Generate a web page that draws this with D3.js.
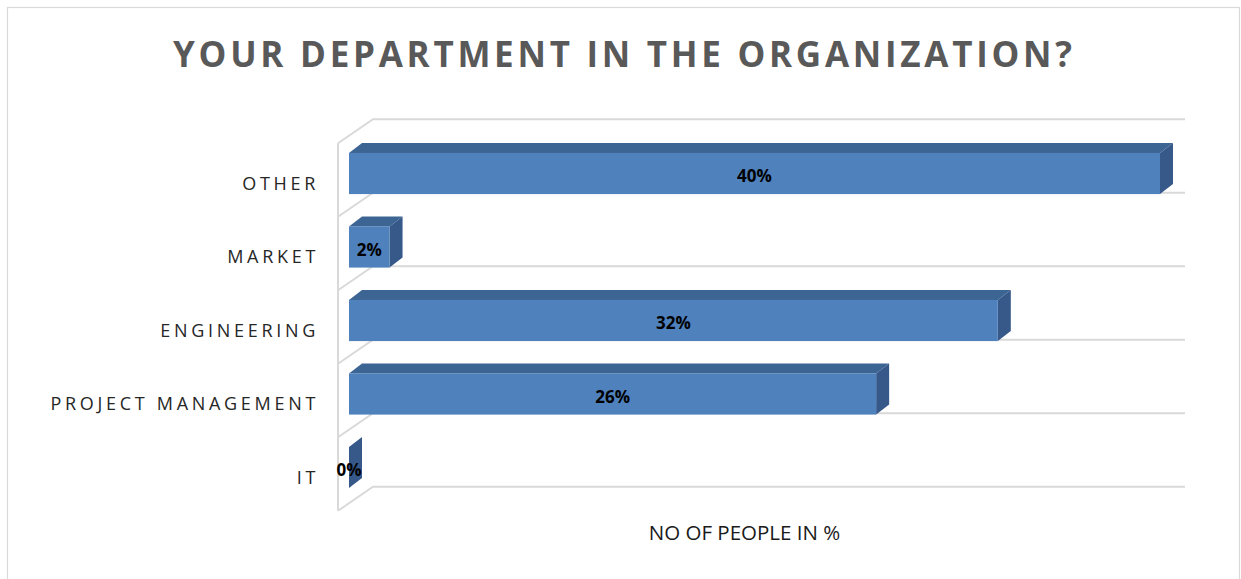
<!DOCTYPE html>
<html>
<head>
<meta charset="utf-8">
<script src="https://cdn.jsdelivr.net/npm/d3@7"></script>
<style>
  html, body { margin: 0; padding: 0; background: #ffffff; }
  svg { display: block; }
</style>
</head>
<body>
<svg id="chart" width="1241" height="579"></svg>
<script>
// Survey answers: share of respondents per department (%)
const categories = ["OTHER", "MARKET", "ENGINEERING", "PROJECT MANAGEMENT", "IT"];
const values = [40, 2, 32, 26, 0];
const valueLabels = ["40%", "2%", "32%", "26%", "0%"];
const chartTitle = "YOUR DEPARTMENT IN THE ORGANIZATION?";
const axisTitle = "NO OF PEOPLE IN %";

const svg = d3.select("#chart");
const font = "'Open Sans', 'Liberation Sans', sans-serif";

// Outer frame
svg.append("rect")
  .attr("x", 7.5).attr("y", 7.5)
  .attr("width", 1232).attr("height", 600)
  .attr("fill", "#ffffff")
  .attr("stroke", "#d9d9d9").attr("stroke-width", 1.2);

// Scales for the front faces of the bars
const x = d3.scaleLinear().domain([0, 40]).range([349, 1160]);
const y = d3.scaleBand().domain(categories)
  .range([136.75, 504.25])
  .paddingInner(0.44).paddingOuter(0.22);

// 3D offsets
const bar3d = { dx: 13, dy: -10 };      // bar depth
const wallFront = { dx: -11, dy: 6.5 }; // side wall front edge relative to bar front
const wallBack = { dx: 24, dy: -17.5 }; // back wall relative to bar front

// Category boundaries (top of each band plus the bottom of the last)
const gap = (y.step() - y.bandwidth()) / 2;
const bounds = categories.map(c => y(c) - gap);
bounds.push(y(categories[categories.length - 1]) + y.bandwidth() + gap);

const grid = svg.append("g")
  .attr("fill", "none")
  .attr("stroke", "#d9d9d9")
  .attr("stroke-width", 2);

const x0 = x(0), x1 = x.range()[1];
const fx = x0 + wallFront.dx;
const bx0 = x0 + wallBack.dx;
const bx1 = x1 + wallBack.dx + 1;

// side wall front edge
grid.append("line")
  .attr("x1", fx).attr("x2", fx)
  .attr("y1", bounds[0] + wallFront.dy)
  .attr("y2", bounds[bounds.length - 1] + wallFront.dy);

// gridlines on the side and back walls
grid.selectAll("path.grid")
  .data(bounds)
  .join("path")
  .attr("class", "grid")
  .attr("d", b => `M${fx},${b + wallFront.dy}L${bx0},${b + wallBack.dy}L${bx1},${b + wallBack.dy}`);

// Bars
const bars = svg.append("g")
  .selectAll("g.bar")
  .data(categories.map((c, i) => ({ c, v: values[i], label: valueLabels[i] })))
  .join("g")
  .attr("class", "bar");

bars.append("path") // top face
  .attr("fill", "#3d6594")
  .attr("d", d => {
    const l = x(0), r = x(d.v), t = y(d.c);
    return `M${l},${t}L${l + bar3d.dx},${t + bar3d.dy}L${r + bar3d.dx},${t + bar3d.dy}L${r},${t}Z`;
  });

bars.append("path") // side face
  .attr("fill", "#36598a")
  .attr("d", d => {
    const r = x(d.v), t = y(d.c), b = t + y.bandwidth();
    return `M${r},${t}L${r + bar3d.dx},${t + bar3d.dy}L${r + bar3d.dx},${b + bar3d.dy}L${r},${b}Z`;
  });

bars.append("rect") // front face
  .attr("fill", "#4f81bd")
  .attr("x", x(0))
  .attr("y", d => y(d.c))
  .attr("width", d => x(d.v) - x(0))
  .attr("height", y.bandwidth());

bars.append("text")
  .attr("x", d => (x(0) + x(d.v)) / 2)
  .attr("y", d => y(d.c) + y.bandwidth() / 2 + 8.5)
  .attr("text-anchor", "middle")
  .attr("font-family", font)
  .attr("font-weight", "bold")
  .attr("font-size", 17)
  .attr("fill", "#000000")
  .text(d => d.label);

// Category labels
svg.append("g")
  .selectAll("text")
  .data(categories)
  .join("text")
  .attr("x", 319)
  .attr("y", c => y(c) + y.bandwidth() / 2 + 16)
  .attr("text-anchor", "end")
  .attr("font-family", font)
  .attr("font-size", 18)
  .attr("letter-spacing", 3.7)
  .attr("fill", "#262626")
  .text(c => c);

// Title
svg.append("text")
  .attr("x", 622.5)
  .attr("y", 67)
  .attr("text-anchor", "middle")
  .attr("font-family", font)
  .attr("font-weight", "bold")
  .attr("font-size", 35)
  .attr("fill", "#595959")
  .attr("textLength", 899)
  .attr("lengthAdjust", "spacing")
  .text(chartTitle);

// Axis title
svg.append("text")
  .attr("x", 744.5)
  .attr("y", 540)
  .attr("text-anchor", "middle")
  .attr("font-family", font)
  .attr("font-size", 20.5)
  .attr("fill", "#1a1a1a")
  .text(axisTitle);
</script>
</body>
</html>
